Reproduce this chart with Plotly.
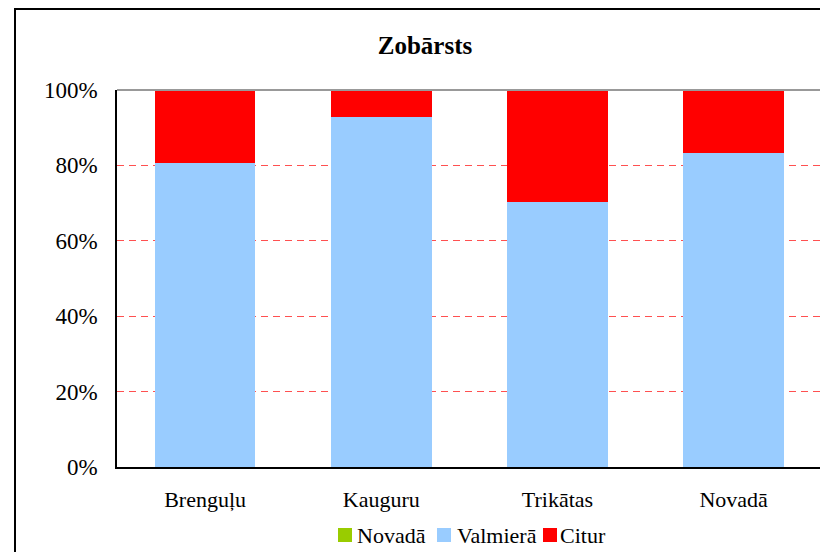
import plotly.graph_objects as go

categories = ["Brenguļu", "Kauguru", "Trikātas", "Novadā"]
series_names = ["Novadā", "Valmierā", "Citur"]
series_colors = ["#99CC00", "#99CCFF", "#FF0000"]
novada = [0.0, 0.0, 0.0, 0.0]
valmiera = [80.6, 92.8, 70.3, 83.4]
citur = [19.4, 7.2, 29.7, 16.6]
y_ticks = [0, 20, 40, 60, 80, 100]
y_tick_labels = ["0%", "20%", "40%", "60%", "80%", "100%"]

W, H = 820, 552
L, R, T, B = 117, 0, 90, 85
font = "Liberation Serif, Times New Roman, serif"
pw = W - L - R
ph = H - T - B


def px(x):
    return (x - L) / pw


def py(y):
    return (H - B - y) / ph


fig = go.Figure()
for name, vals, col in zip(series_names, [novada, valmiera, citur], series_colors):
    fig.add_trace(go.Bar(x=categories, y=vals, name=name, marker_color=col,
                         marker_line_width=0, width=0.57, showlegend=False))

fig.update_layout(
    width=W, height=H, barmode="stack",
    margin=dict(l=L, r=R, t=T, b=B),
    paper_bgcolor="white", plot_bgcolor="white",
    font=dict(family=font, size=23, color="black"),
    title=dict(text="<b>Zobārsts</b>", x=px(425), xref="paper",
               xanchor="center", y=1 - 45 / H, yanchor="middle",
               font=dict(size=25, family=font)),
    showlegend=False,
)
fig.update_xaxes(range=[-0.5, 3.49], showline=True, linecolor="black",
                 linewidth=1.5, ticks="", tickfont=dict(size=22),
                 ticklabelstandoff=12, showgrid=False)
fig.update_yaxes(range=[0, 100], tickvals=y_ticks, ticktext=y_tick_labels,
                 showline=True, linecolor="black", linewidth=1.5,
                 showgrid=True, gridcolor="#FF5050", griddash="7px,5px",
                 gridwidth=1.3, ticks="", ticklabelstandoff=13,
                 tickfont=dict(size=23), zeroline=False)
# top border of plot area (gray)
fig.add_shape(type="line", xref="paper", yref="paper", x0=0, x1=1.05,
              y0=1, y1=1, line=dict(color="#999999", width=2))
# outer chart border
fig.add_shape(type="rect", xref="paper", yref="paper",
              x0=px(15), x1=1.1, y0=py(H + 10), y1=py(9),
              line=dict(color="black", width=2), layer="above")

# custom legend
legend_sq_x = [338, 437, 543]
legend_tx_x = [357, 457, 560]
for name, col, sx, tx in zip(series_names, series_colors, legend_sq_x, legend_tx_x):
    fig.add_shape(type="rect", xref="paper", yref="paper",
                  x0=px(sx), x1=px(sx + 14), y0=py(542), y1=py(528),
                  fillcolor=col, line=dict(width=0))
    fig.add_annotation(text=name, xref="paper", yref="paper", x=px(tx - 2),
                       y=py(535), xanchor="left", yanchor="middle",
                       showarrow=False, font=dict(size=22, family=font))

fig.write_html("out.html", config={"displayModeBar": False},
               post_script="document.body.style.margin='0';"
                           "document.body.style.overflow='hidden';")
